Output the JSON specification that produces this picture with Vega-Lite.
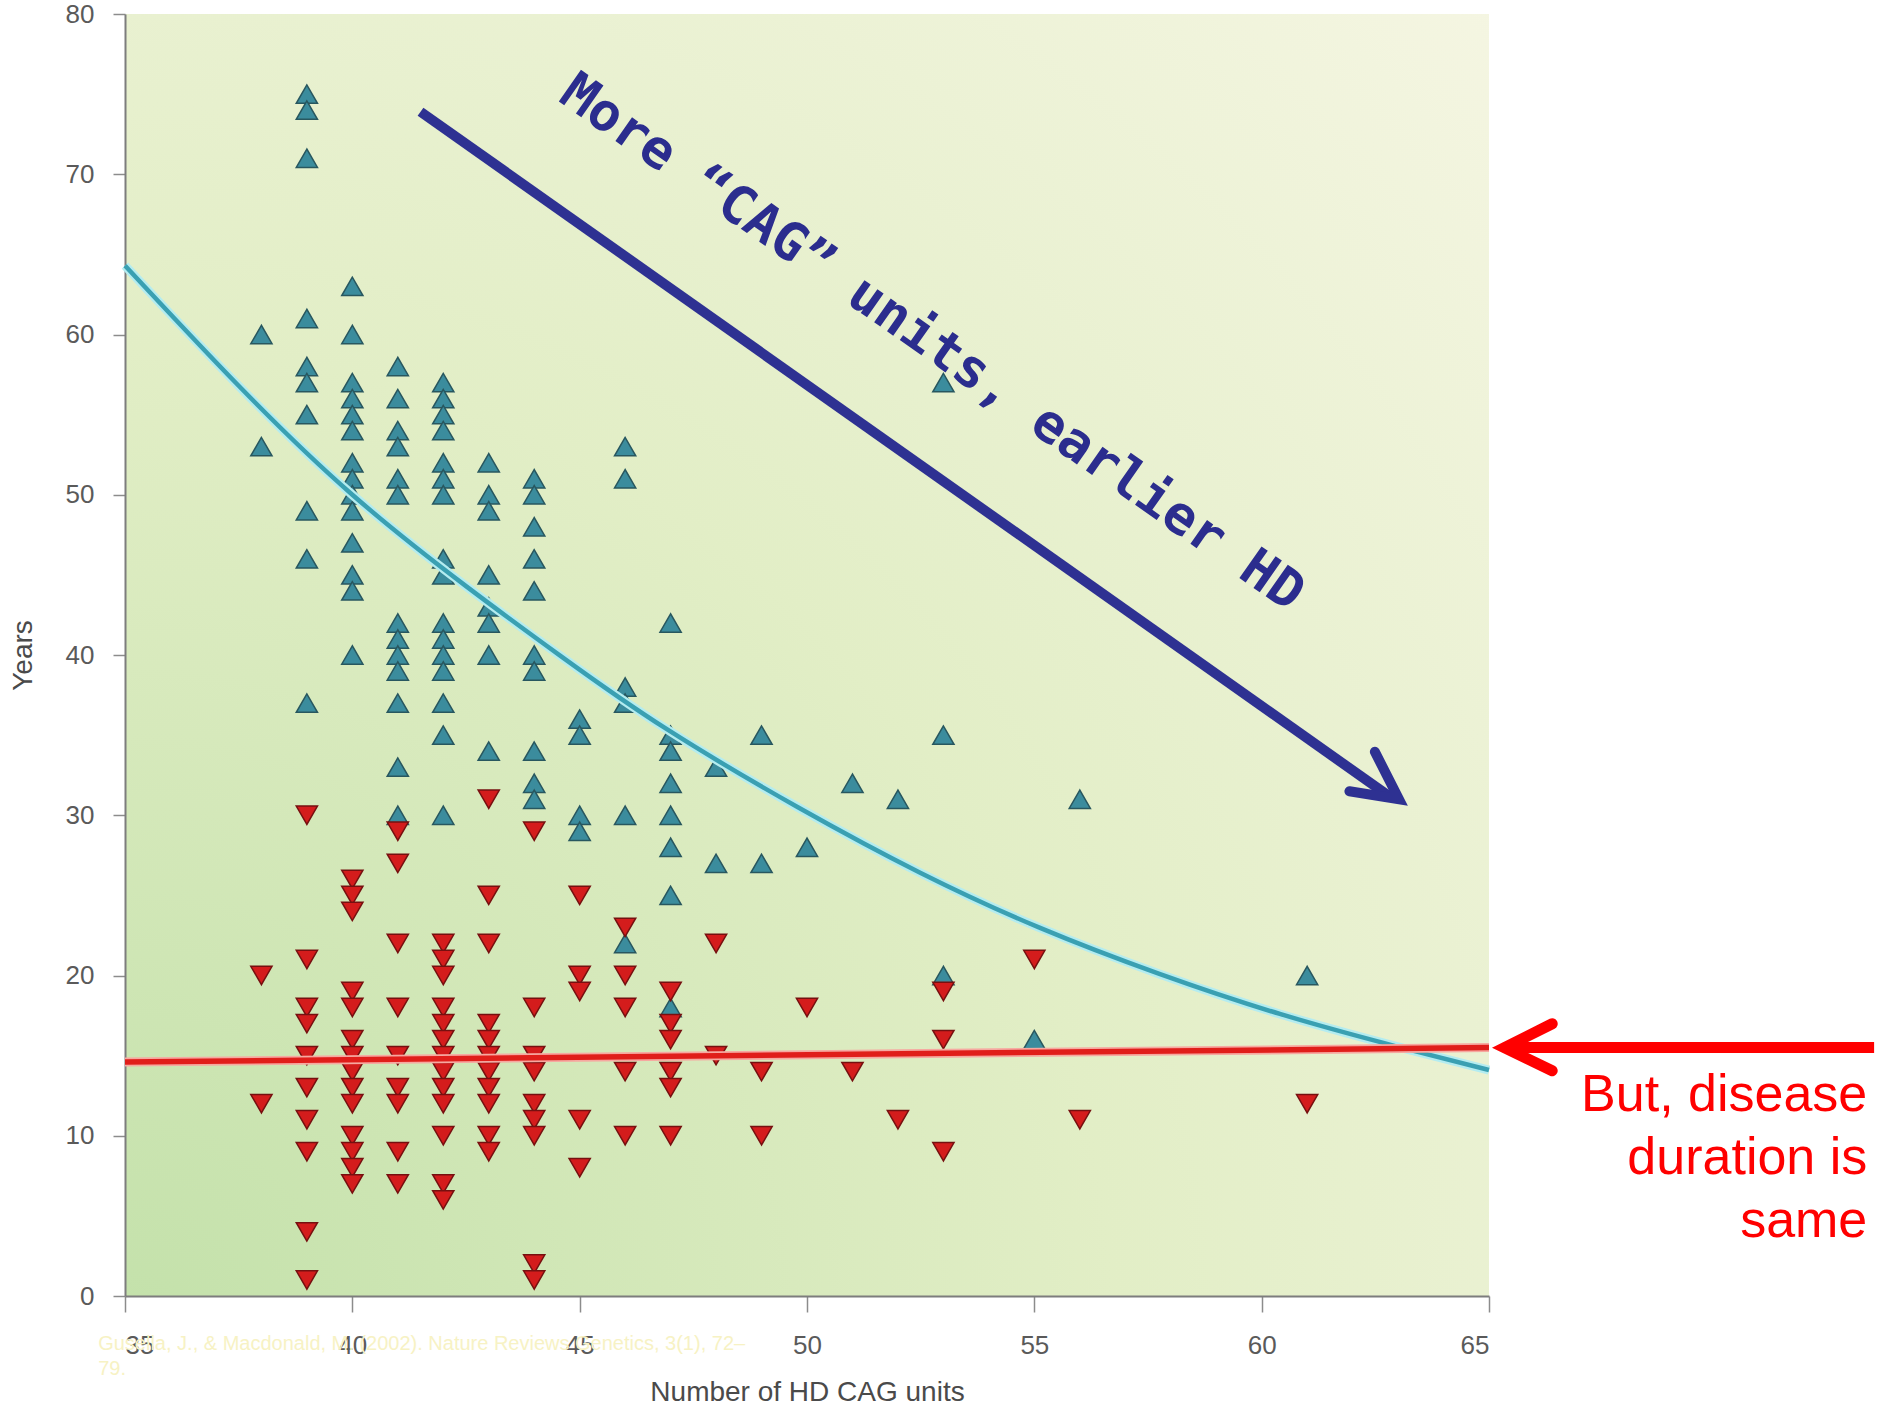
{
  "$schema": "https://vega.github.io/schema/vega-lite/v6.json",
  "autosize": {"type": "none"},
  "width": 1364,
  "height": 1282,
  "padding": {"left": 125, "top": 14, "right": 394, "bottom": 115},
  "background": "white",
  "config": {
    "view": {
      "stroke": null,
      "fill": {
        "gradient": "radial",
        "x1": 0, "y1": 1, "r1": 0,
        "x2": 0, "y2": 1, "r2": 1.45,
        "stops": [
          {"offset": 0, "color": "#c3e1aa"},
          {"offset": 0.5, "color": "#e2eec6"},
          {"offset": 1, "color": "#f6f6e4"}
        ]
      }
    },
    "axis": {
      "grid": false,
      "domainColor": "#7d7d7d",
      "domainWidth": 2,
      "tickColor": "#8c8c8c",
      "tickWidth": 1.5,
      "labelColor": "#5a5a5a",
      "labelFont": "Liberation Sans",
      "labelFontSize": 26,
      "titleFont": "Liberation Sans",
      "titleFontSize": 28,
      "titleFontWeight": "normal",
      "titleColor": "#4a4a4a"
    }
  },
  "datasets": {
    "points": [
      {"cag": 38, "years": 60, "measure": "onset"},
      {"cag": 38, "years": 53, "measure": "onset"},
      {"cag": 39, "years": 75, "measure": "onset"},
      {"cag": 39, "years": 74, "measure": "onset"},
      {"cag": 39, "years": 71, "measure": "onset"},
      {"cag": 39, "years": 61, "measure": "onset"},
      {"cag": 39, "years": 58, "measure": "onset"},
      {"cag": 39, "years": 57, "measure": "onset"},
      {"cag": 39, "years": 55, "measure": "onset"},
      {"cag": 39, "years": 49, "measure": "onset"},
      {"cag": 39, "years": 46, "measure": "onset"},
      {"cag": 39, "years": 37, "measure": "onset"},
      {"cag": 40, "years": 63, "measure": "onset"},
      {"cag": 40, "years": 60, "measure": "onset"},
      {"cag": 40, "years": 57, "measure": "onset"},
      {"cag": 40, "years": 56, "measure": "onset"},
      {"cag": 40, "years": 55, "measure": "onset"},
      {"cag": 40, "years": 54, "measure": "onset"},
      {"cag": 40, "years": 52, "measure": "onset"},
      {"cag": 40, "years": 51, "measure": "onset"},
      {"cag": 40, "years": 50, "measure": "onset"},
      {"cag": 40, "years": 49, "measure": "onset"},
      {"cag": 40, "years": 47, "measure": "onset"},
      {"cag": 40, "years": 45, "measure": "onset"},
      {"cag": 40, "years": 44, "measure": "onset"},
      {"cag": 40, "years": 40, "measure": "onset"},
      {"cag": 41, "years": 58, "measure": "onset"},
      {"cag": 41, "years": 56, "measure": "onset"},
      {"cag": 41, "years": 54, "measure": "onset"},
      {"cag": 41, "years": 53, "measure": "onset"},
      {"cag": 41, "years": 51, "measure": "onset"},
      {"cag": 41, "years": 50, "measure": "onset"},
      {"cag": 41, "years": 42, "measure": "onset"},
      {"cag": 41, "years": 41, "measure": "onset"},
      {"cag": 41, "years": 40, "measure": "onset"},
      {"cag": 41, "years": 39, "measure": "onset"},
      {"cag": 41, "years": 37, "measure": "onset"},
      {"cag": 41, "years": 33, "measure": "onset"},
      {"cag": 41, "years": 30, "measure": "onset"},
      {"cag": 42, "years": 57, "measure": "onset"},
      {"cag": 42, "years": 56, "measure": "onset"},
      {"cag": 42, "years": 55, "measure": "onset"},
      {"cag": 42, "years": 54, "measure": "onset"},
      {"cag": 42, "years": 52, "measure": "onset"},
      {"cag": 42, "years": 51, "measure": "onset"},
      {"cag": 42, "years": 50, "measure": "onset"},
      {"cag": 42, "years": 46, "measure": "onset"},
      {"cag": 42, "years": 45, "measure": "onset"},
      {"cag": 42, "years": 42, "measure": "onset"},
      {"cag": 42, "years": 41, "measure": "onset"},
      {"cag": 42, "years": 40, "measure": "onset"},
      {"cag": 42, "years": 39, "measure": "onset"},
      {"cag": 42, "years": 37, "measure": "onset"},
      {"cag": 42, "years": 35, "measure": "onset"},
      {"cag": 42, "years": 30, "measure": "onset"},
      {"cag": 43, "years": 52, "measure": "onset"},
      {"cag": 43, "years": 50, "measure": "onset"},
      {"cag": 43, "years": 49, "measure": "onset"},
      {"cag": 43, "years": 45, "measure": "onset"},
      {"cag": 43, "years": 43, "measure": "onset"},
      {"cag": 43, "years": 42, "measure": "onset"},
      {"cag": 43, "years": 40, "measure": "onset"},
      {"cag": 43, "years": 34, "measure": "onset"},
      {"cag": 44, "years": 51, "measure": "onset"},
      {"cag": 44, "years": 50, "measure": "onset"},
      {"cag": 44, "years": 48, "measure": "onset"},
      {"cag": 44, "years": 46, "measure": "onset"},
      {"cag": 44, "years": 44, "measure": "onset"},
      {"cag": 44, "years": 40, "measure": "onset"},
      {"cag": 44, "years": 39, "measure": "onset"},
      {"cag": 44, "years": 34, "measure": "onset"},
      {"cag": 44, "years": 32, "measure": "onset"},
      {"cag": 44, "years": 31, "measure": "onset"},
      {"cag": 45, "years": 36, "measure": "onset"},
      {"cag": 45, "years": 35, "measure": "onset"},
      {"cag": 45, "years": 30, "measure": "onset"},
      {"cag": 45, "years": 29, "measure": "onset"},
      {"cag": 46, "years": 53, "measure": "onset"},
      {"cag": 46, "years": 51, "measure": "onset"},
      {"cag": 46, "years": 38, "measure": "onset"},
      {"cag": 46, "years": 37, "measure": "onset"},
      {"cag": 46, "years": 30, "measure": "onset"},
      {"cag": 46, "years": 22, "measure": "onset"},
      {"cag": 47, "years": 42, "measure": "onset"},
      {"cag": 47, "years": 35, "measure": "onset"},
      {"cag": 47, "years": 34, "measure": "onset"},
      {"cag": 47, "years": 32, "measure": "onset"},
      {"cag": 47, "years": 30, "measure": "onset"},
      {"cag": 47, "years": 28, "measure": "onset"},
      {"cag": 47, "years": 25, "measure": "onset"},
      {"cag": 47, "years": 18, "measure": "onset"},
      {"cag": 48, "years": 33, "measure": "onset"},
      {"cag": 48, "years": 27, "measure": "onset"},
      {"cag": 49, "years": 35, "measure": "onset"},
      {"cag": 49, "years": 27, "measure": "onset"},
      {"cag": 50, "years": 28, "measure": "onset"},
      {"cag": 51, "years": 32, "measure": "onset"},
      {"cag": 52, "years": 31, "measure": "onset"},
      {"cag": 53, "years": 57, "measure": "onset"},
      {"cag": 53, "years": 35, "measure": "onset"},
      {"cag": 53, "years": 20, "measure": "onset"},
      {"cag": 55, "years": 16, "measure": "onset"},
      {"cag": 56, "years": 31, "measure": "onset"},
      {"cag": 61, "years": 20, "measure": "onset"},
      {"cag": 38, "years": 20, "measure": "duration"},
      {"cag": 38, "years": 12, "measure": "duration"},
      {"cag": 39, "years": 30, "measure": "duration"},
      {"cag": 39, "years": 21, "measure": "duration"},
      {"cag": 39, "years": 18, "measure": "duration"},
      {"cag": 39, "years": 17, "measure": "duration"},
      {"cag": 39, "years": 15, "measure": "duration"},
      {"cag": 39, "years": 13, "measure": "duration"},
      {"cag": 39, "years": 11, "measure": "duration"},
      {"cag": 39, "years": 9, "measure": "duration"},
      {"cag": 39, "years": 4, "measure": "duration"},
      {"cag": 39, "years": 1, "measure": "duration"},
      {"cag": 40, "years": 26, "measure": "duration"},
      {"cag": 40, "years": 25, "measure": "duration"},
      {"cag": 40, "years": 24, "measure": "duration"},
      {"cag": 40, "years": 19, "measure": "duration"},
      {"cag": 40, "years": 18, "measure": "duration"},
      {"cag": 40, "years": 16, "measure": "duration"},
      {"cag": 40, "years": 15, "measure": "duration"},
      {"cag": 40, "years": 14, "measure": "duration"},
      {"cag": 40, "years": 13, "measure": "duration"},
      {"cag": 40, "years": 12, "measure": "duration"},
      {"cag": 40, "years": 10, "measure": "duration"},
      {"cag": 40, "years": 9, "measure": "duration"},
      {"cag": 40, "years": 8, "measure": "duration"},
      {"cag": 40, "years": 7, "measure": "duration"},
      {"cag": 41, "years": 29, "measure": "duration"},
      {"cag": 41, "years": 27, "measure": "duration"},
      {"cag": 41, "years": 22, "measure": "duration"},
      {"cag": 41, "years": 18, "measure": "duration"},
      {"cag": 41, "years": 15, "measure": "duration"},
      {"cag": 41, "years": 13, "measure": "duration"},
      {"cag": 41, "years": 12, "measure": "duration"},
      {"cag": 41, "years": 9, "measure": "duration"},
      {"cag": 41, "years": 7, "measure": "duration"},
      {"cag": 42, "years": 22, "measure": "duration"},
      {"cag": 42, "years": 21, "measure": "duration"},
      {"cag": 42, "years": 20, "measure": "duration"},
      {"cag": 42, "years": 18, "measure": "duration"},
      {"cag": 42, "years": 17, "measure": "duration"},
      {"cag": 42, "years": 16, "measure": "duration"},
      {"cag": 42, "years": 15, "measure": "duration"},
      {"cag": 42, "years": 14, "measure": "duration"},
      {"cag": 42, "years": 13, "measure": "duration"},
      {"cag": 42, "years": 12, "measure": "duration"},
      {"cag": 42, "years": 10, "measure": "duration"},
      {"cag": 42, "years": 7, "measure": "duration"},
      {"cag": 42, "years": 6, "measure": "duration"},
      {"cag": 43, "years": 31, "measure": "duration"},
      {"cag": 43, "years": 25, "measure": "duration"},
      {"cag": 43, "years": 22, "measure": "duration"},
      {"cag": 43, "years": 17, "measure": "duration"},
      {"cag": 43, "years": 16, "measure": "duration"},
      {"cag": 43, "years": 15, "measure": "duration"},
      {"cag": 43, "years": 14, "measure": "duration"},
      {"cag": 43, "years": 13, "measure": "duration"},
      {"cag": 43, "years": 12, "measure": "duration"},
      {"cag": 43, "years": 10, "measure": "duration"},
      {"cag": 43, "years": 9, "measure": "duration"},
      {"cag": 44, "years": 29, "measure": "duration"},
      {"cag": 44, "years": 18, "measure": "duration"},
      {"cag": 44, "years": 15, "measure": "duration"},
      {"cag": 44, "years": 14, "measure": "duration"},
      {"cag": 44, "years": 12, "measure": "duration"},
      {"cag": 44, "years": 11, "measure": "duration"},
      {"cag": 44, "years": 10, "measure": "duration"},
      {"cag": 44, "years": 2, "measure": "duration"},
      {"cag": 44, "years": 1, "measure": "duration"},
      {"cag": 45, "years": 25, "measure": "duration"},
      {"cag": 45, "years": 20, "measure": "duration"},
      {"cag": 45, "years": 19, "measure": "duration"},
      {"cag": 45, "years": 11, "measure": "duration"},
      {"cag": 45, "years": 8, "measure": "duration"},
      {"cag": 46, "years": 23, "measure": "duration"},
      {"cag": 46, "years": 20, "measure": "duration"},
      {"cag": 46, "years": 18, "measure": "duration"},
      {"cag": 46, "years": 14, "measure": "duration"},
      {"cag": 46, "years": 10, "measure": "duration"},
      {"cag": 47, "years": 19, "measure": "duration"},
      {"cag": 47, "years": 17, "measure": "duration"},
      {"cag": 47, "years": 16, "measure": "duration"},
      {"cag": 47, "years": 14, "measure": "duration"},
      {"cag": 47, "years": 13, "measure": "duration"},
      {"cag": 47, "years": 10, "measure": "duration"},
      {"cag": 48, "years": 22, "measure": "duration"},
      {"cag": 48, "years": 15, "measure": "duration"},
      {"cag": 49, "years": 14, "measure": "duration"},
      {"cag": 49, "years": 10, "measure": "duration"},
      {"cag": 50, "years": 18, "measure": "duration"},
      {"cag": 51, "years": 14, "measure": "duration"},
      {"cag": 52, "years": 11, "measure": "duration"},
      {"cag": 53, "years": 19, "measure": "duration"},
      {"cag": 53, "years": 16, "measure": "duration"},
      {"cag": 53, "years": 9, "measure": "duration"},
      {"cag": 55, "years": 21, "measure": "duration"},
      {"cag": 56, "years": 11, "measure": "duration"},
      {"cag": 61, "years": 12, "measure": "duration"}
    ],
    "onsetFit": [
      {"cag": 35, "years": 64.3},
      {"cag": 37.5, "years": 56.8},
      {"cag": 40, "years": 50.0},
      {"cag": 42.5, "years": 44.3},
      {"cag": 44.6, "years": 39.9},
      {"cag": 46.9, "years": 35.4},
      {"cag": 49.8, "years": 30.5},
      {"cag": 52.5, "years": 26.4},
      {"cag": 55.1, "years": 23.0},
      {"cag": 57.75, "years": 20.1},
      {"cag": 60.4, "years": 17.6},
      {"cag": 63, "years": 15.55},
      {"cag": 65, "years": 14.1}
    ],
    "durationFit": [
      {"cag": 35, "years": 14.6},
      {"cag": 65, "years": 15.5}
    ],
    "blueShaft": [
      {"x": 41.5, "y": 73.9, "x2": 62.85, "y2": 31.1}
    ],
    "blueHead": [
      {"i": 1, "x": 61.93, "y": 31.5},
      {"i": 2, "x": 63.02, "y": 31.0},
      {"i": 3, "x": 62.49, "y": 33.96}
    ],
    "redShaft": [
      {"x": 73.47, "y": 15.5, "x2": 65.5, "y2": 15.5}
    ],
    "redHead": [
      {"i": 1, "x": 66.39, "y": 16.99},
      {"i": 2, "x": 65.34, "y": 15.5},
      {"i": 3, "x": 66.39, "y": 14.06}
    ],
    "blueLabel": [
      {"x": 52.75, "y": 59.45, "text": "More “CAG” units, earlier HD"}
    ],
    "redLabel": [
      {"x": 73.32, "y": 11.54, "text": ["But, disease", "duration is", "same"]}
    ],
    "citation": [
      {"x": 34.41, "y": -3.4, "text": ["Gusella, J., & Macdonald, M. (2002). Nature Reviews Genetics, 3(1), 72–", "79."]}
    ]
  },
  "layer": [
    {
      "data": {"name": "points"},
      "mark": {"type": "point", "filled": true, "size": 450, "strokeWidth": 1.5, "opacity": 1},
      "encoding": {
        "x": {
          "field": "cag", "type": "quantitative",
          "scale": {"domain": [35, 65], "nice": false, "zero": false},
          "axis": {
            "title": "Number of HD CAG units",
            "values": [35, 40, 45, 50, 55, 60, 65],
            "tickSize": 16, "labelPadding": 20, "titlePadding": 20
          }
        },
        "y": {
          "field": "years", "type": "quantitative",
          "scale": {"domain": [0, 80], "nice": false},
          "axis": {
            "title": "Years",
            "values": [0, 10, 20, 30, 40, 50, 60, 70, 80],
            "tickSize": 12, "labelPadding": 19, "titlePadding": 28
          }
        },
        "shape": {
          "field": "measure", "type": "nominal",
          "scale": {"domain": ["onset", "duration"], "range": ["triangle-up", "triangle-down"]},
          "legend": null
        },
        "fill": {
          "field": "measure", "type": "nominal",
          "scale": {"domain": ["onset", "duration"], "range": ["#3b8c9d", "#d41c1c"]},
          "legend": null
        },
        "stroke": {
          "field": "measure", "type": "nominal",
          "scale": {"domain": ["onset", "duration"], "range": ["#28575f", "#761010"]},
          "legend": null
        }
      }
    },
    {
      "data": {"name": "onsetFit"},
      "mark": {"type": "line", "color": "#b4ecf0", "strokeWidth": 9, "interpolate": "natural"},
      "encoding": {
        "x": {"field": "cag", "type": "quantitative"},
        "y": {"field": "years", "type": "quantitative"}
      }
    },
    {
      "data": {"name": "onsetFit"},
      "mark": {"type": "line", "color": "#3aa0b2", "strokeWidth": 4.5, "interpolate": "natural"},
      "encoding": {
        "x": {"field": "cag", "type": "quantitative"},
        "y": {"field": "years", "type": "quantitative"}
      }
    },
    {
      "data": {"name": "durationFit"},
      "mark": {"type": "line", "color": "#f6a8a0", "strokeWidth": 9},
      "encoding": {
        "x": {"field": "cag", "type": "quantitative"},
        "y": {"field": "years", "type": "quantitative"}
      }
    },
    {
      "data": {"name": "durationFit"},
      "mark": {"type": "line", "color": "#e01e1a", "strokeWidth": 5.5},
      "encoding": {
        "x": {"field": "cag", "type": "quantitative"},
        "y": {"field": "years", "type": "quantitative"}
      }
    },
    {
      "data": {"name": "blueShaft"},
      "mark": {"type": "rule", "color": "#2e3192", "strokeWidth": 10, "strokeCap": "butt"},
      "encoding": {
        "x": {"field": "x", "type": "quantitative"},
        "y": {"field": "y", "type": "quantitative"},
        "x2": {"field": "x2"},
        "y2": {"field": "y2"}
      }
    },
    {
      "data": {"name": "blueHead"},
      "mark": {"type": "line", "color": "#2e3192", "strokeWidth": 10, "strokeCap": "round", "strokeJoin": "miter"},
      "encoding": {
        "x": {"field": "x", "type": "quantitative"},
        "y": {"field": "y", "type": "quantitative"},
        "order": {"field": "i", "type": "quantitative"}
      }
    },
    {
      "data": {"name": "redShaft"},
      "mark": {"type": "rule", "color": "#ff0000", "strokeWidth": 11, "strokeCap": "butt"},
      "encoding": {
        "x": {"field": "x", "type": "quantitative"},
        "y": {"field": "y", "type": "quantitative"},
        "x2": {"field": "x2"},
        "y2": {"field": "y2"}
      }
    },
    {
      "data": {"name": "redHead"},
      "mark": {"type": "line", "color": "#ff0000", "strokeWidth": 11, "strokeCap": "round", "strokeJoin": "miter"},
      "encoding": {
        "x": {"field": "x", "type": "quantitative"},
        "y": {"field": "y", "type": "quantitative"},
        "order": {"field": "i", "type": "quantitative"}
      }
    },
    {
      "data": {"name": "blueLabel"},
      "mark": {"type": "text", "font": "DejaVu Sans Mono", "fontSize": 53, "fontWeight": "bold", "color": "#2b2d8e", "angle": 35, "align": "center", "baseline": "middle"},
      "encoding": {
        "x": {"field": "x", "type": "quantitative"},
        "y": {"field": "y", "type": "quantitative"},
        "text": {"field": "text"}
      }
    },
    {
      "data": {"name": "redLabel"},
      "mark": {"type": "text", "font": "Liberation Sans", "fontSize": 52, "lineHeight": 63, "color": "#ff0000", "align": "right", "baseline": "alphabetic"},
      "encoding": {
        "x": {"field": "x", "type": "quantitative"},
        "y": {"field": "y", "type": "quantitative"},
        "text": {"field": "text"}
      }
    },
    {
      "data": {"name": "citation"},
      "mark": {"type": "text", "font": "Liberation Sans", "fontSize": 20, "lineHeight": 25, "color": "#f7f2c4", "align": "left", "baseline": "alphabetic"},
      "encoding": {
        "x": {"field": "x", "type": "quantitative"},
        "y": {"field": "y", "type": "quantitative"},
        "text": {"field": "text"}
      }
    }
  ]
}
